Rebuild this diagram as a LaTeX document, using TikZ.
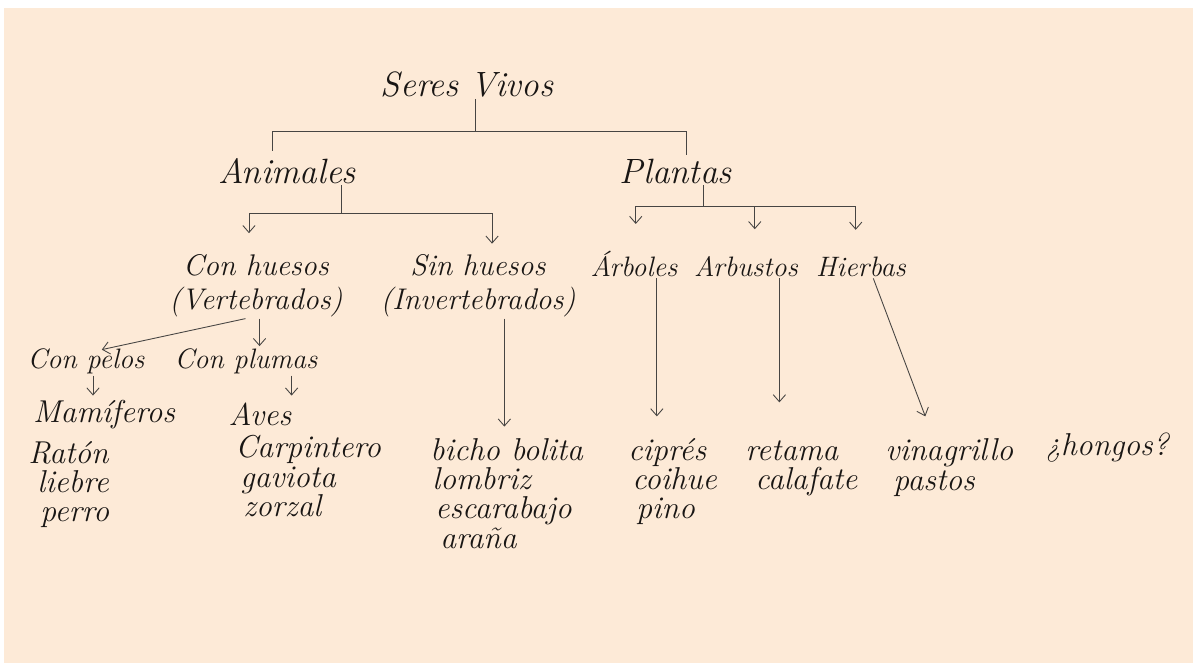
\documentclass[tikz,border=0pt]{standalone}
\usepackage{xcolor}
\usepackage{tikz}
\usetikzlibrary{arrows.meta, positioning}

\definecolor{paper}{RGB}{253,234,215}
\definecolor{ink}{RGB}{25,22,20}

\begin{document}
\begin{tikzpicture}[x=0.02cm, y=-0.02cm,
    word/.style={text=ink, inner sep=1pt, font=\fontsize{16}{17}\selectfont\itshape},
    bigword/.style={word, font=\fontsize{20}{22}\selectfont\itshape},
    twoline/.style={word, align=center, font=\fontsize{17}{19}\selectfont\itshape},
    leaf/.style={word, inner sep=0pt, font=\fontsize{18}{20}\selectfont\itshape},
    line/.style={draw=ink!80, line width=0.5pt},
    arr/.style={line, -{Straight Barb[length=4pt, width=7pt]}}]
    \useasboundingbox (0,0) rectangle (1193,663);
    \fill[white] (0,0) rectangle (1193,663);
    \fill[paper] (4,8) rectangle (1193,663);

    % top levels
    \node[bigword, anchor=base] (seres) at (467,96) {Seres Vivos};
    \node[bigword, anchor=base] (animales) at (287,183) {Animales};
    \node[bigword, anchor=base] (plantas) at (676,183) {Plantas};
    \node[twoline, anchor=base] (conh) at (256,309) {Con huesos\\(Vertebrados)};
    \node[twoline, anchor=base] (sinh) at (478,309) {Sin huesos\\(Invertebrados)};
    \node[word, anchor=base] (arboles) at (634,276) {Árboles};
    \node[word, anchor=base] (arbustos) at (746,276) {Arbustos};
    \node[word, anchor=base] (hierbas) at (861,276) {Hierbas};
    \node[word, anchor=base] (conp) at (86,368) {Con pelos};
    \node[word, anchor=base] (conpl) at (246,368) {Con plumas};
    \node[leaf, anchor=base] (mam) at (104,422) {Mamíferos};
    \node[leaf, anchor=base] (aves) at (260,425) {Aves};

    % lists of examples
    \foreach \n/\x/\y/\t in {rat/28/463/Ratón, lie/37/492/liebre, per/40/521/perro,
                             car/235/457/Carpintero, gav/240/487/gaviota, zor/243/516/zorzal,
                             bic/430/460/bicho bolita, lom/432/489/lombriz,
                             esc/435/518/escarabajo, ara/440/548/araña,
                             cip/628/460/ciprés, coi/632/489/coihue, pin/636/518/pino,
                             ret/745/460/retama, cal/755/489/calafate,
                             vin/885/460/vinagrillo, pas/893/490/pastos,
                             hon/1045/455/¿hongos?} {
        \node[leaf, anchor=base west] (\n) at (\x,\y) {\t};
    }

    % brackets
    \coordinate (sJ) at (475,131);
    \coordinate (sL) at (272,131);
    \coordinate (sR) at (686,131);
    \draw[line] (seres.south -| sJ) -- (sJ);
    \draw[line] ([yshift=3pt]animales.north -| sL) -- (sL) -- (sR) -- ([yshift=1pt]plantas.north -| sR);

    \coordinate (aJ) at (341,213);
    \draw[line] (animales.south -| aJ) -- (aJ);
    \draw[arr] (aJ) -| ([xshift=-4pt, yshift=11pt]conh.north);
    \draw[arr] (aJ) -| ([xshift=8pt, yshift=5pt]sinh.north);

    \coordinate (pJ) at (703,206);
    \draw[line] (plantas.south -| pJ) -- (pJ);
    \draw[arr] (pJ) -| ([xshift=1pt, yshift=14pt]arboles.north);
    \draw[arr] (pJ) -| ([xshift=5pt, yshift=14pt]arbustos.north);
    \draw[arr] (pJ) -| ([xshift=-3pt, yshift=14pt]hierbas.north);

    % lower arrows
    \coordinate (pelX) at (93,0);
    \draw[arr] ([xshift=-6pt]conh.south) -- ([xshift=9pt, yshift=-2pt]conp.north);
    \draw[arr] ([xshift=2pt]conh.south) -- ([xshift=2pt]conh.south |- conpl.north);
    \draw[arr] (conp.south -| pelX) -- ++(0,20);
    \draw[arr] (conpl.south -| aves.east) -- ++(0,20);
    \draw[arr] ([xshift=15pt]sinh.south) -- ++(0,108);
    \draw[arr] ([xshift=13pt]arboles.south) -- ++(0,138);
    \draw[arr] ([xshift=19pt]arbustos.south) -- ++(0,124);
    \draw[arr] ([xshift=7pt]hierbas.south) -- ++(52,138);
\end{tikzpicture}
\end{document}
